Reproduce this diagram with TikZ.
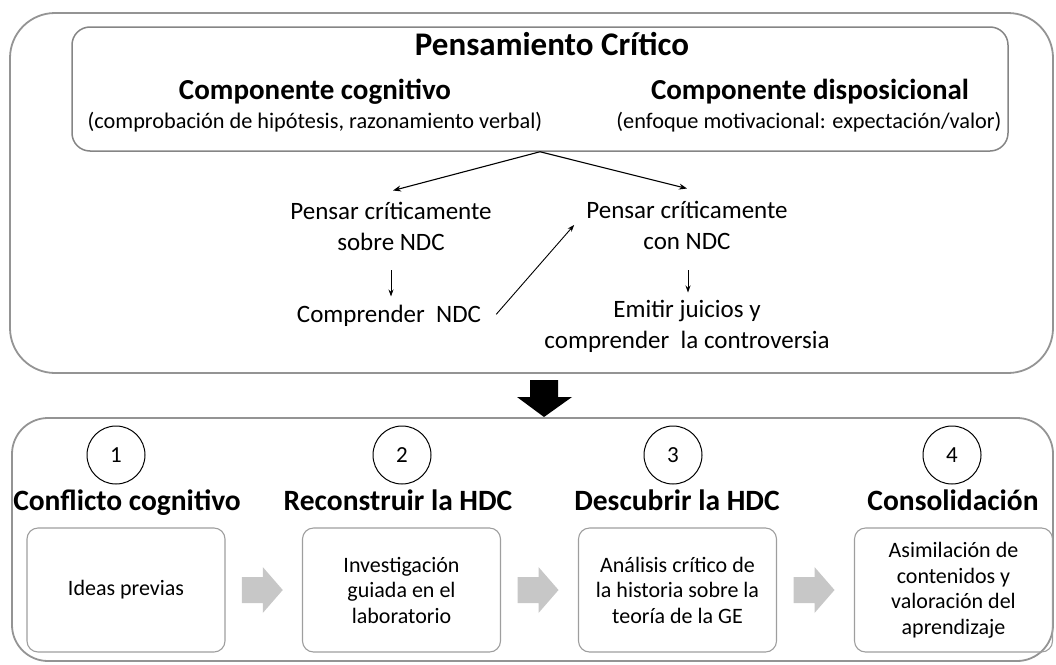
\documentclass[tikz,border=0pt]{standalone}
\usepackage{fontspec}
\setmainfont{Carlito}
\usetikzlibrary{arrows.meta,calc}
\begin{document}
\begin{tikzpicture}[x=1pt,y=-1pt,
  bigbox/.style={draw=black!42, line width=1.8pt, rounded corners=45pt, inner sep=0pt},
  innerbox/.style={draw=black!48, line width=1.5pt, rounded corners=18pt, inner sep=0pt},
  stepbox/.style={draw=black!38, line width=1.1pt, rounded corners=11pt, minimum width=198pt, minimum height=124pt, align=center, inner sep=2pt, font=\fontsize{22}{25.5}\selectfont},
  numcirc/.style={draw=black, line width=1pt, circle, minimum size=58pt, inner sep=0pt, font=\fontsize{23}{25}\selectfont},
  ttl/.style={anchor=base, inner sep=0pt, font=\fontsize{29.5}{31}\selectfont\bfseries},
  comp/.style={anchor=base, inner sep=0pt, font=\fontsize{29}{31}\selectfont\bfseries},
  mid/.style={anchor=base, inner sep=0pt, align=center, font=\fontsize{25}{31}\selectfont},
  sub/.style={anchor=base, inner sep=0pt, font=\fontsize{22.3}{24}\selectfont},
  arr/.style={-{Stealth[length=8pt,width=6pt]}, line width=1.1pt, black},
  sarr/.style={-{Stealth[length=7pt,width=5pt]}, line width=0.9pt, black},
  grayarr/.style={fill=black!22},
]
\useasboundingbox (0,0) rectangle (1056,664);

% top area
\node[bigbox, minimum width=1043pt, minimum height=360pt] (topbox) at (531.5,193) {};
\node[innerbox, minimum width=936pt, minimum height=124pt] (inner) at (540,89) {};
\node[anchor=base, inner sep=0pt, font=\fontsize{33}{35}\selectfont\bfseries] (pc) at (552,55) {Pensamiento Crítico};
\node[comp] (cc) at (315,99) {Componente cognitivo};
\node[sub] (ccs) at (315,128) {(comprobación de hipótesis, razonamiento verbal)};
\node[comp] (cd) at (810,99) {Componente disposicional};
\node[sub] (cds) at (809,128) {(enfoque motivacional: expectación/valor)};

\node[mid] (pl) at (391,250) {Pensar críticamente\\sobre NDC};
\node[mid] (cl) at (389,322) {Comprender\ \ NDC};
\node[mid] (pr) at (687,249) {Pensar críticamente\\con NDC};
\node[mid] (ej) at (687,348) {Emitir juicios y\\comprender\ \ la controversia};

\draw[arr] (inner.south) -- ($(pl.north)+(2,-11)$);
\draw[arr] (inner.south) -- ($(pr.north)+(0,-12)$);
\draw[sarr] ($(pl.south)+(0,20)$) -- ($(pl.south |- cl.north)+(0,-8)$);
\draw[sarr] ($(pr.south)+(1,21)$) -- ($(pr.south |- ej.north)+(1,-7)$);
\draw[sarr] ($(cl.east)+(15,-1)$) -- ($(pr.west)+(-12,0)$);

% big black arrow
\coordinate (ba) at (544,380);
\fill[black] ($(ba)+(-14,0)$) -- ($(ba)+(14,0)$) -- ($(ba)+(14,17)$) -- ($(ba)+(28,17)$) -- ($(ba)+(0,37)$) -- ($(ba)+(-27,17)$) -- ($(ba)+(-14,17)$) -- cycle;

% bottom area
\node[bigbox, rounded corners=36pt, minimum width=1041pt, minimum height=243pt] (botbox) at (532.5,539.5) {};

\node[numcirc] (n1) at (116,455) {1};
\node[numcirc] (n2) at (402,455) {2};
\node[numcirc] (n3) at (673,455) {3};
\node[numcirc] (n4) at (952,455) {4};

\node[ttl] (t1) at (127,510) {Conflicto cognitivo};
\node[ttl] (t2) at (398,510) {Reconstruir la HDC};
\node[ttl] (t3) at (677,510) {Descubrir la HDC};
\node[ttl] (t4) at (953,510) {Consolidación};

\node[stepbox] (b1) at (126,590) {Ideas previas};
\node[stepbox] (b2) at (401.5,590) {Investigación\\guiada en el\\laboratorio};
\node[stepbox] (b3) at (677.5,590) {Análisis crítico de\\la historia sobre la\\teoría de la GE};
\node[stepbox] (b4) at (953.5,590) {Asimilación de\\contenidos y\\valoración del\\aprendizaje};

\foreach \a/\b in {b1/b2,b2/b3,b3/b4}{
  \coordinate (m) at ($(\a.east)!0.5!(\b.west)$);
  \fill[grayarr] ($(m)+(-22,-13)$) -- ($(m)+(-1,-13)$) -- ($(m)+(-1,-23)$) -- ($(m)+(19,0)$) -- ($(m)+(-1,23)$) -- ($(m)+(-1,13)$) -- ($(m)+(-22,13)$) -- cycle;
}
\end{tikzpicture}
\end{document}
